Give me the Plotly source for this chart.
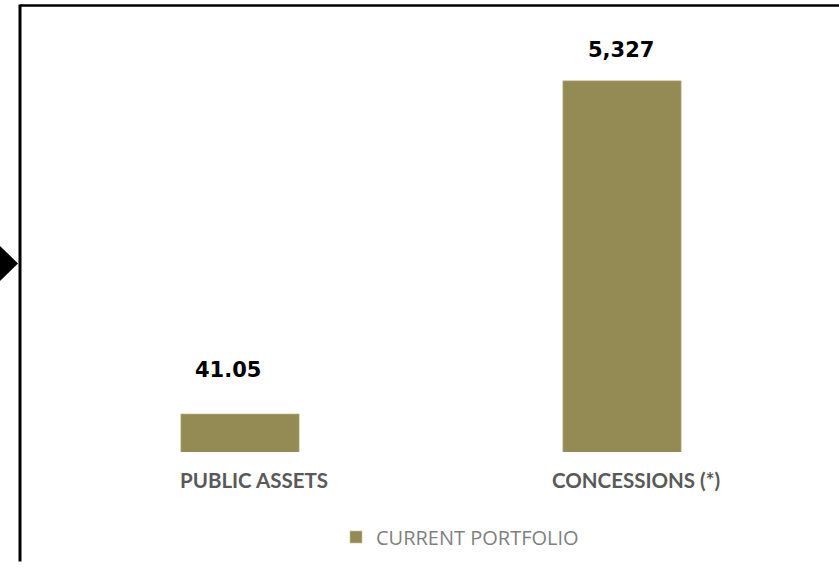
import math
import plotly.graph_objects as go

# data
categories = ["PUBLIC ASSETS", "CONCESSIONS (*)"]
values = [41.05, 5327]
value_text = ["41.05", "5,327"]
series_name = "CURRENT PORTFOLIO"

W, H = 839, 569
ML, MR, MT, MB = 49, 26, 30, 107
BAR_COLOR = "#948A54"


def paper_x(px):
    return (px - ML) / (W - ML - MR)


def paper_y(py):
    return (H - MB - py) / (H - MT - MB)


fig = go.Figure()
fig.add_trace(
    go.Bar(
        x=categories,
        y=values,
        name=series_name,
        marker=dict(color=BAR_COLOR, line=dict(color="#c9c29c", width=0.6)),
        showlegend=True,
    )
)

# value labels above the bars (pixel nudges per bar)
label_shift = [(-12, 44), (-1, 31)]
for cat, v, t, (dx, dy) in zip(categories, values, value_text, label_shift):
    fig.add_annotation(
        x=cat, y=math.log10(v), text=t, showarrow=False,
        xshift=dx, yshift=dy, yanchor="middle",
        font=dict(family="DejaVu Sans", size=21, color="black", weight="bold"),
    )

# frame lines and the arrow on the left
fig.add_shape(type="line", xref="paper", yref="paper",
              x0=paper_x(20), x1=paper_x(W + 5), y0=paper_y(5), y1=paper_y(5),
              line=dict(color="black", width=2.5))
fig.add_shape(type="line", xref="paper", yref="paper",
              x0=paper_x(20), x1=paper_x(20), y0=paper_y(4), y1=paper_y(H + 5),
              line=dict(color="black", width=3))
fig.add_shape(type="path", xref="paper", yref="paper",
              path=(f"M{paper_x(-2)},{paper_y(249)} L{paper_x(18)},{paper_y(269)} "
                    f"L{paper_x(-2)},{paper_y(289)} Z"),
              fillcolor="black", line=dict(width=0))

fig.update_xaxes(
    showgrid=False, showline=False, zeroline=False, ticks="",
    ticklabelstandoff=14, ticklabelshift=14,
    tickfont=dict(family="Lato", size=20.5, color="#595959", weight="bold"),
)
fig.update_yaxes(
    type="log", range=[1.3716, 4.048],
    showgrid=False, showline=False, zeroline=False,
    showticklabels=False, ticks="",
)
fig.update_layout(
    width=W, height=H, autosize=False,
    margin=dict(l=ML, r=MR, t=MT, b=MB, pad=0),
    plot_bgcolor="white", paper_bgcolor="white",
    bargap=0.69,
    showlegend=True,
    legend=dict(
        orientation="h", x=paper_x(460), xanchor="center",
        y=paper_y(549), yanchor="middle",
        font=dict(family="Open Sans", size=20, color="#7f7f7f"),
        itemwidth=30,
    ),
)

fig.write_html(
    "out.html",
    config={"displayModeBar": False, "responsive": False},
    post_script=("document.body.style.margin='0';"
                 "document.body.style.overflow='hidden';"
                 "document.documentElement.style.overflow='hidden';"),
)
